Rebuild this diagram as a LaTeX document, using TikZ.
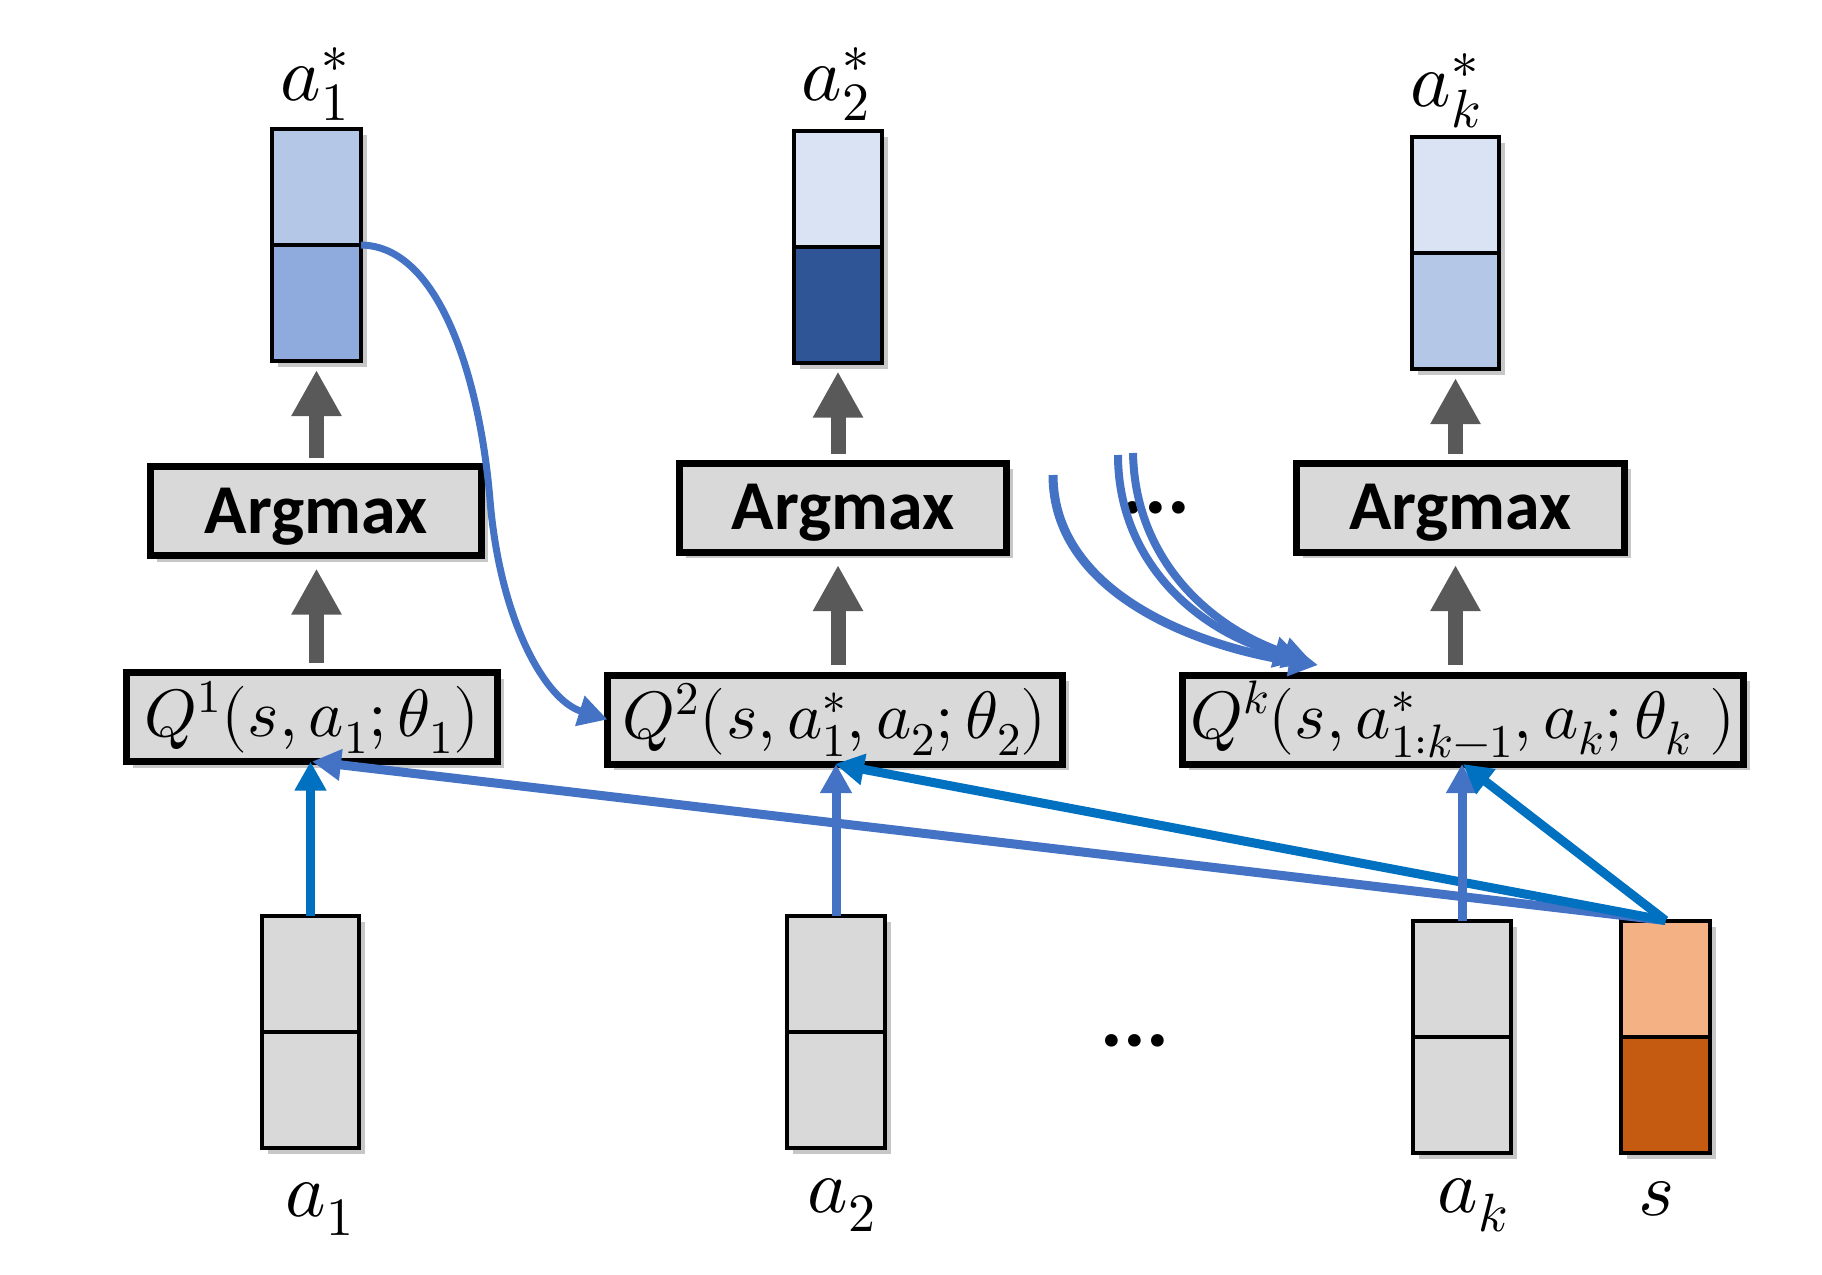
\documentclass[tikz,border=0pt]{standalone}
\usepackage{fontspec}
\usepackage{unicode-math}
\newfontfamily\carl{Carlito}
\usetikzlibrary{arrows.meta,shadows}
\definecolor{boxgray}{HTML}{D9D9D9}
\definecolor{bluA}{HTML}{B4C7E7}
\definecolor{bluB}{HTML}{8FAADC}
\definecolor{bluC}{HTML}{DAE3F3}
\definecolor{bluD}{HTML}{2F5597}
\definecolor{orA}{HTML}{F4B183}
\definecolor{orB}{HTML}{C55A11}
\definecolor{lineA}{HTML}{4472C4}
\definecolor{lineB}{HTML}{0070C0}
\definecolor{arrgray}{HTML}{595959}
\newcommand\mkvec[6]{%
  \node[vecnode, minimum width=#4pt, fill=#6] (#1) at (#2,#3) {};
  \fill[#5] (#1.north west) rectangle (#1.east);
  \draw[vecline] (#1.north west) rectangle (#1.south east);
  \draw[vecline] (#1.west) -- (#1.east);
}
\begin{document}
\begin{tikzpicture}[x=1pt,y=-1pt,
  shadowed/.style={drop shadow={shadow xshift=6pt,shadow yshift=-6pt,opacity=0.22,fill=black}},
  vecnode/.style={draw=black,line width=4pt,minimum height=232pt,inner sep=0pt,outer sep=0pt,shadowed},
  vecline/.style={draw=black,line width=4pt},
  opbox/.style={draw=black,line width=7pt,fill=boxgray,inner sep=0pt,outer sep=0pt,minimum height=89pt,shadowed},
  argtext/.style={font=\carl\bfseries\fontsize{70}{80}\selectfont,inner sep=0pt,anchor=base},
  qtext/.style={font=\fontsize{67}{74}\selectfont,inner sep=0pt},
  lab/.style={font=\fontsize{77}{84}\selectfont,inner sep=0pt,anchor=base},
  grayarrow/.style={draw=arrgray,line width=15pt,-{Triangle[width=47pt,length=46pt]}},
  bluarrow/.style={line width=9pt,-{Triangle[width=30pt,length=29pt]}},
  dots/.style={font=\carl\bfseries\fontsize{85}{90}\selectfont,inner sep=0pt}
]
\useasboundingbox (0,0) rectangle (1822,1274);

% output vectors
\mkvec{as1}{316.5}{245}{89}{bluA}{bluB}
\mkvec{as2}{838}{246.5}{88}{bluC}{bluD}
\mkvec{ask}{1455.5}{253}{87}{bluC}{bluA}
% input vectors
\mkvec{va1}{310.5}{1032}{97}{boxgray}{boxgray}
\mkvec{va2}{836}{1031.5}{98}{boxgray}{boxgray}
\mkvec{vak}{1462}{1036.5}{98}{boxgray}{boxgray}
\mkvec{vs}{1665.5}{1036.5}{89}{orA}{orB}

% labels
\node[lab] (las1) at (315,100) {$a_1^*$};
\node[lab] (las2) at (836,100) {$a_2^*$};
\node[lab] (lask) at (1446,106) {$a_k^*$};
\node[lab] (la1) at (320,1216) {$a_1$};
\node[lab] (la2) at (842,1212) {$a_2$};
\node[lab] (lak) at (1473,1212) {$a_k$};
\node[lab] (ls) at (1657,1215) {$s$};

% argmax boxes
\node[opbox,minimum width=331pt] (am1) at (316,511) {};
\node[argtext] (t1) at ([yshift=-22pt]am1.center) {Argmax};
\node[opbox,minimum width=327pt] (am2) at (843,507.5) {};
\node[argtext] (t2) at ([yshift=-22pt]am2.center) {Argmax};
\node[opbox,minimum width=328pt] (amk) at (1460.5,507.5) {};
\node[argtext] (t3) at ([yshift=-22pt]amk.center) {Argmax};

% Q boxes
\node[opbox,minimum width=371pt] (q1) at (312,717) {};
\node[qtext] (tq1) at (q1) {$Q^1(s,a_1;\theta_1)$};
\node[opbox,minimum width=455pt] (q2) at (835,719.5) {};
\node[qtext] (tq2) at (q2) {$Q^2(s,a_1^*,a_2;\theta_2)$};
\node[opbox,minimum width=561pt] (qk) at (1463,719.5) {};
\node[qtext] (tqk) at (qk) {$Q^k(s,a_{1:k-1}^*,a_k;\theta_k\;)$};

% dots
\node[dots] (d1) at (1156,508) {...};
\node[dots] (d2) at (1135,1041) {...};

% gray arrows
\draw[grayarrow,shorten <=10pt,shorten >=13pt] (as1.south |- q1.north) -- (as1.south |- am1.south);
\draw[grayarrow,shorten <=10pt,shorten >=13pt] (as2.south |- q2.north) -- (as2.south |- am2.south);
\draw[grayarrow,shorten <=10pt,shorten >=13pt] (ask.south |- qk.north) -- (ask.south |- amk.south);
\draw[grayarrow,shorten <=9pt,shorten >=9pt] (as1.south |- am1.north) -- (as1.south);
\draw[grayarrow,shorten <=9pt,shorten >=9pt] (as2.south |- am2.north) -- (as2.south);
\draw[grayarrow,shorten <=9pt,shorten >=9pt] (ask.south |- amk.north) -- (ask.south);

% blue inputs
\draw[bluarrow,draw=lineA] (vs.north) -- (q1.south);
\draw[bluarrow,draw=lineB] (va1.north) -- (va1.north |- q1.south);
\draw[bluarrow,draw=lineA] (va2.north) -- (va2.north |- q2.south);
\draw[bluarrow,draw=lineB] (vs.north) -- (q2.south);
\draw[bluarrow,draw=lineA] (vak.north) -- (vak.north |- qk.south);
\draw[bluarrow,draw=lineB] (vs.north) -- (qk.south);

% curve a1* -> Q2
\draw[bluarrow,draw=lineA,line width=7pt] (as1.east) .. controls (440,246) and (480,380) .. (490,500)
  .. controls (500,620) and (545,700) .. (q2.west);

% curves into Qk
\coordinate (cA) at (1053,475);
\coordinate (cB) at (1118,455);
\coordinate (cC) at (1133,453);
\coordinate (eA) at (1318,665);
\coordinate (eB) at (1303,660);
\coordinate (eC) at (1312,662);
\draw[bluarrow,draw=lineA,line width=9pt] (cA) .. controls (1053,590) and (1190,645) .. (eA);
\draw[bluarrow,draw=lineA,line width=8pt] (cB) .. controls (1118,560) and (1195,630) .. (eB);
\draw[bluarrow,draw=lineA,line width=8pt] (cC) .. controls (1135,560) and (1210,628) .. (eC);
\end{tikzpicture}
\end{document}
